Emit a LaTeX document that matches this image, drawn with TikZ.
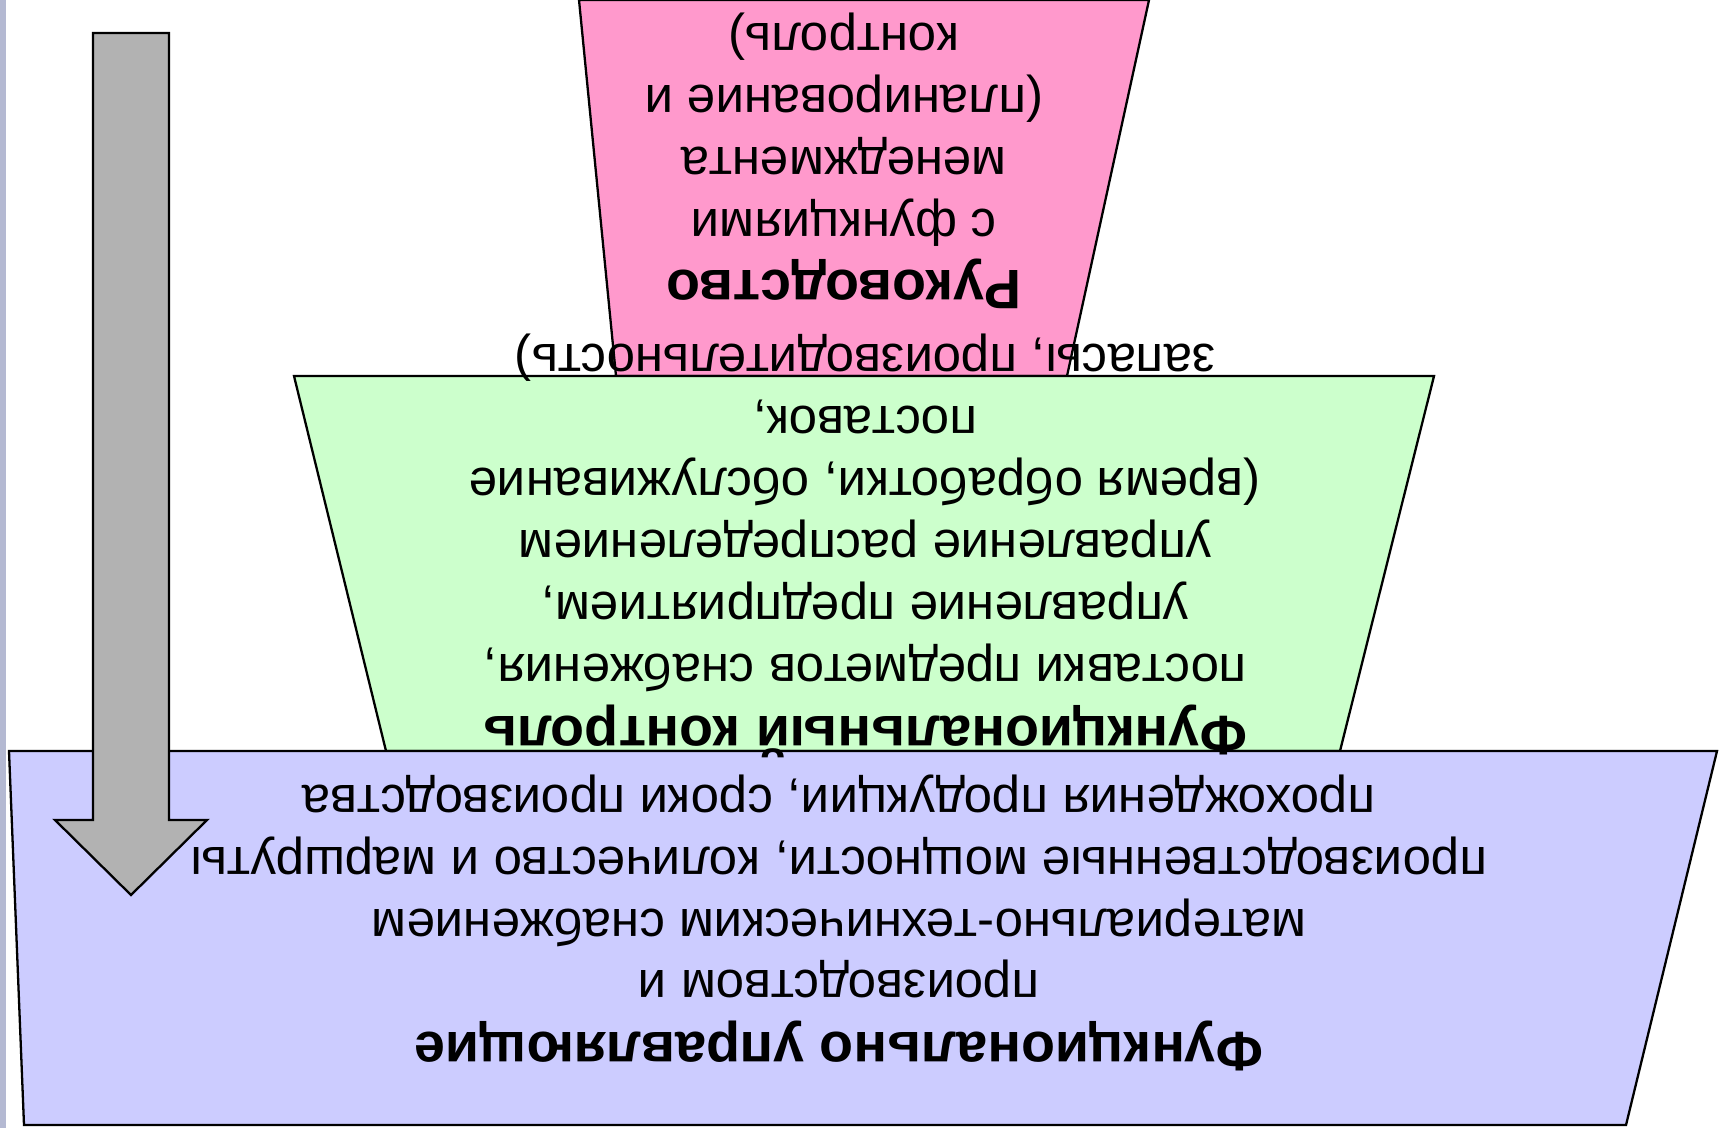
\documentclass[tikz,border=0pt]{standalone}
\usepackage{fontspec}
\setmainfont{Liberation Sans}
\usepackage{tikz}
\usetikzlibrary{positioning, arrows.meta, shapes}
\usepackage{xcolor}
\definecolor{levelpink}{HTML}{FF99CC}
\definecolor{levelgreen}{HTML}{CCFFCC}
\definecolor{levelblue}{HTML}{CCCCFF}
\definecolor{arrowgray}{HTML}{B2B2B2}
\definecolor{stripblue}{HTML}{B4B9D2}
\newcommand{\levelhead}[1]{{\fontsize{15.8}{17.5}\selectfont\bfseries #1}}

\begin{document}
\begin{tikzpicture}[x=0.01cm, y=-0.01cm]
    % Define styles
    \tikzstyle{level} = [draw=black, line width=0.65pt, line join=miter]
    \tikzstyle{leveltext} = [rotate=180, align=center, inner sep=0pt, font=\fontsize{14.5}{17.6}\selectfont]

    \useasboundingbox (0,0) rectangle (1719,1128);
    \fill[stripblue] (0,0) rectangle (6,1128);

    % Levels
    \draw [level, fill=levelpink] (579,0) -- (1149,0) -- (1067,376) -- (616,376) -- cycle;
    \draw [level, fill=levelgreen] (294,376) -- (1434,376) -- (1340,751) -- (386,751) -- cycle;
    \draw [level, fill=levelblue] (9,751) -- (1717,751) -- (1626,1125) -- (24,1125) -- cycle;

    % Arrow
    \draw [level, fill=arrowgray] (93,33) -- (169,33) -- (169,820) -- (207,820) -- (131,895)
        -- (55,820) -- (93,820) -- cycle;

    % Texts
    \node [leveltext] (management) at (844,161)
        {\levelhead{Руководство}\\с функциями\\менеджмента\\(планирование и\\контроль)};
    \node [leveltext] (control) at (865,546)
        {\levelhead{Функциональный контроль}\\поставки предметов снабжения,\\управление предприятием,\\управление распределением\\(время обработки, обслуживание\\поставок,\\запасы, производительность)};
    \node [leveltext] (operations) at (839,923)
        {\levelhead{Функционально управляющие}\\производством и\\материально-техническим снабжением\\производственные мощности, количество и маршруты\\прохождения продукции, сроки производства};
\end{tikzpicture}
\end{document}
